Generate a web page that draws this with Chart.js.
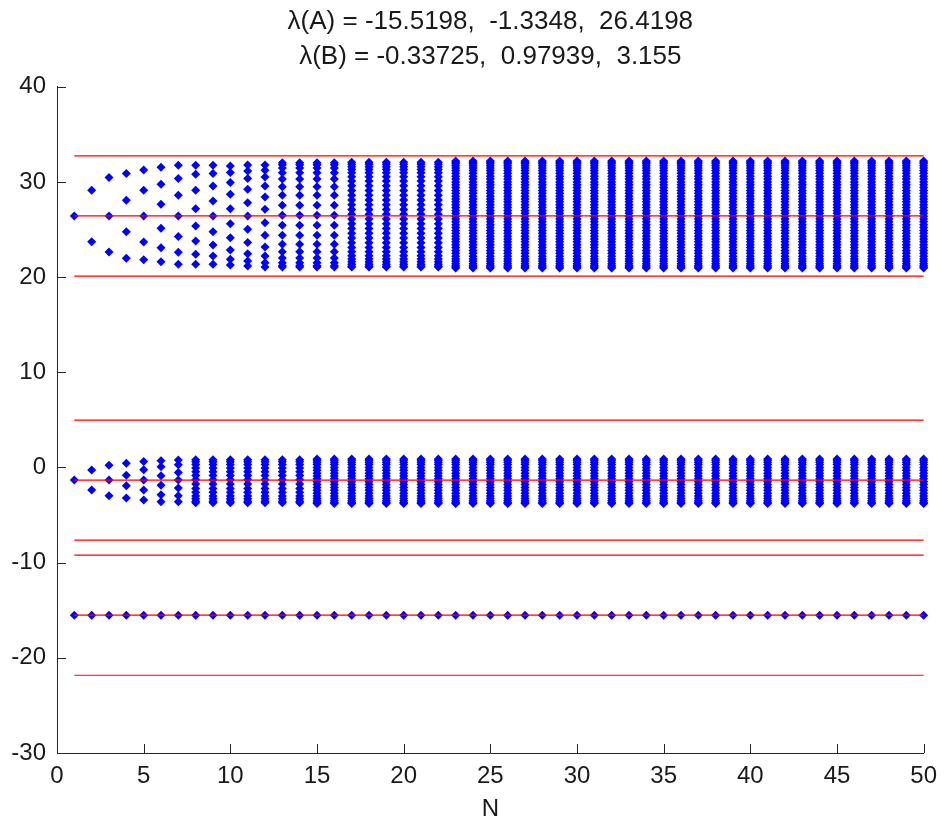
<!DOCTYPE html>
<html>
<head>
<meta charset="utf-8">
<script src="https://cdn.jsdelivr.net/npm/chart.js@4.4.1/dist/chart.umd.min.js"></script>
<style>
  html, body { margin: 0; padding: 0; background: #fff; }
  canvas { display: block; }
</style>
</head>
<body>
<canvas id="eigChart" width="946" height="824"></canvas>
<script>
// Title text
const titleLines = [
    'λ(A) = -15.5198,  -1.3348,  26.4198',
    'λ(B) = -0.33725,  0.97939,  3.155'
];

// Axis ticks
const xTicks = [0, 5, 10, 15, 20, 25, 30, 35, 40, 45, 50];
const yTicks = [-30, -20, -10, 0, 10, 20, 30, 40];

// Red reference levels, drawn from N = 1 to N = 50
const levelStart = 1;
const levelEnd = 50;
const levels = [32.7298, 26.4198, 20.1098, 4.9752, -1.3348, -7.6448, -9.2098, -15.5198, -21.8298];

// Upper cluster, one list per N (N = 1..12)
const upperCols = [
    [26.42],
    [29.12, 23.72],
    [30.45, 26.42, 22.63],
    [30.87, 28.07, 24.77, 21.97],
    [31.26, 29.12, 26.42, 23.69, 21.83],
    [31.54, 29.75, 27.65, 25.12, 23.09, 21.62],
    [31.75, 30.35, 28.59, 26.42, 24.25, 22.60, 21.34],
    [31.75, 30.80, 29.12, 27.19, 25.37, 23.79, 22.39, 21.34],
    [31.75, 30.87, 29.58, 28.00, 26.42, 24.77, 23.37, 22.21, 21.34],
    [31.68, 30.98, 29.93, 28.70, 27.19, 25.61, 24.14, 22.84, 21.86, 21.27],
    [31.78, 31.15, 30.35, 29.22, 27.82, 26.42, 25.02, 23.62, 22.46, 21.69, 21.16],
    [31.78, 31.22, 30.52, 29.58, 28.42, 27.12, 25.72, 24.39, 23.16, 22.21, 21.51, 21.06]
];
// Upper cluster, dense columns (markers run together)
const upperDenseA = [32.0, 31.8, 31.45, 30.95, 30.3, 29.5, 28.6, 27.55, 26.5, 25.45, 24.4, 23.45, 22.65, 22.0, 21.5, 21.2, 21.05];
const upperDenseB = [32.05, 31.85, 31.6, 31.3, 30.95, 30.55, 30.1, 29.6, 29.1, 28.6, 28.1, 27.6, 27.1, 26.6, 26.1, 25.6, 25.1, 24.6, 24.1, 23.6, 23.1, 22.65, 22.25, 21.9, 21.6, 21.35, 21.15, 21.05];
const upperDenseC = [32.2, 32.05, 31.9, 31.7, 31.45, 31.2, 30.9, 30.6, 30.3, 30.0, 29.7, 29.4, 29.1, 28.8, 28.5, 28.2, 27.9, 27.6, 27.3, 27.0, 26.7, 26.4, 26.1, 25.8, 25.5, 25.2, 24.9, 24.6, 24.3, 24.0, 23.7, 23.4, 23.1, 22.8, 22.5, 22.2, 21.9, 21.65, 21.4, 21.2, 21.05, 20.95];
const upperDenseRanges = [[13, 16, upperDenseA], [17, 22, upperDenseB], [23, 50, upperDenseC]];

// Middle cluster, one list per N (N = 1..7)
const middleCols = [
    [-1.33],
    [-0.28, -2.38],
    [0.24, -1.33, -2.98],
    [0.45, -0.81, -1.93, -3.22],
    [0.63, -0.25, -1.33, -2.38, -3.43],
    [0.70, 0.07, -0.88, -1.86, -2.87, -3.61],
    [0.77, 0.28, -0.53, -1.33, -2.17, -2.98, -3.61]
];
const middleDenseA = [0.82, 0.6, 0.3, -0.05, -0.45, -0.85, -1.3, -1.75, -2.2, -2.6, -3.0, -3.3, -3.55, -3.7];
const middleDenseB = [0.9, 0.75, 0.55, 0.3, 0.0, -0.3, -0.6, -0.9, -1.2, -1.5, -1.8, -2.1, -2.4, -2.7, -3.0, -3.25, -3.5, -3.68, -3.8];
const middleDenseRanges = [[8, 14, middleDenseA], [15, 50, middleDenseB]];

// Lower eigenvalue, same for every N
const lowerVals = [
    -15.52, -15.52, -15.52, -15.52, -15.52, -15.52, -15.52, -15.52, -15.52, -15.52,
    -15.52, -15.52, -15.52, -15.52, -15.52, -15.52, -15.52, -15.52, -15.52, -15.52,
    -15.52, -15.52, -15.52, -15.52, -15.52, -15.52, -15.52, -15.52, -15.52, -15.52,
    -15.52, -15.52, -15.52, -15.52, -15.52, -15.52, -15.52, -15.52, -15.52, -15.52,
    -15.52, -15.52, -15.52, -15.52, -15.52, -15.52, -15.52, -15.52, -15.52, -15.52
];

const fontFamily = '"Liberation Sans", Arial, sans-serif';
const textColor = '#1a1a1a';
const axisColor = '#262626';
const blue = 'rgb(0, 0, 255)';
const red = 'rgb(255, 0, 0)';

// Build the scatter points
function buildPoints() {
    const pts = [];
    upperCols.forEach((col, i) => col.forEach(v => pts.push({ x: i + 1, y: v })));
    upperDenseRanges.forEach(([from, to, col]) => {
        for (let n = from; n <= to; n++) col.forEach(v => pts.push({ x: n, y: v }));
    });
    middleCols.forEach((col, i) => col.forEach(v => pts.push({ x: i + 1, y: v })));
    middleDenseRanges.forEach(([from, to, col]) => {
        for (let n = from; n <= to; n++) col.forEach(v => pts.push({ x: n, y: v }));
    });
    lowerVals.forEach((v, i) => pts.push({ x: i + 1, y: v }));
    return pts;
}

const levelSets = levels.map(v => ({
    type: 'line',
    data: [{ x: levelStart, y: v }, { x: levelEnd, y: v }],
    borderColor: red,
    borderWidth: 1.2,
    pointRadius: 0,
    fill: false,
    order: 0,
    clip: false
}));

// Ticks pointing into the plot, MATLAB style
const inwardTicks = {
    id: 'inwardTicks',
    afterDraw(chart) {
        const { ctx, chartArea, scales } = chart;
        ctx.save();
        ctx.strokeStyle = axisColor;
        ctx.lineWidth = 1;
        ctx.beginPath();
        scales.x.ticks.forEach(t => {
            const px = Math.round(scales.x.getPixelForValue(t.value)) + 0.5;
            ctx.moveTo(px, chartArea.bottom);
            ctx.lineTo(px, chartArea.bottom - 9);
        });
        scales.y.ticks.forEach(t => {
            const py = Math.round(scales.y.getPixelForValue(t.value)) + 0.5;
            ctx.moveTo(chartArea.left, py);
            ctx.lineTo(chartArea.left + 9, py);
        });
        ctx.stroke();
        ctx.restore();
    }
};

const tickFont = { family: fontFamily, size: 24 };

new Chart(document.getElementById('eigChart').getContext('2d'), {
    type: 'scatter',
    data: {
        datasets: [
            ...levelSets,
            {
                label: 'eig',
                data: buildPoints(),
                pointStyle: 'rectRot',
                pointRadius: 4.5,
                backgroundColor: blue,
                borderColor: blue,
                borderWidth: 0,
                order: 1,
                clip: false
            }
        ]
    },
    options: {
        responsive: false,
        animation: false,
        layout: { padding: { left: 0, right: 22, top: 0, bottom: 0 } },
        plugins: {
            legend: { display: false },
            tooltip: { enabled: false },
            title: {
                display: true,
                fullSize: false,
                text: titleLines,
                color: textColor,
                font: { family: fontFamily, size: 26, weight: 'normal', lineHeight: 1.35 },
                padding: { top: 4, bottom: 12.5 }
            }
        },
        scales: {
            x: {
                type: 'linear',
                min: xTicks[0],
                max: xTicks[xTicks.length - 1],
                afterBuildTicks: s => { s.ticks = xTicks.map(v => ({ value: v })); },
                afterFit: s => { s.height = 71; },
                ticks: { font: tickFont, color: textColor, padding: 9, maxRotation: 0, autoSkip: false },
                grid: { display: true, drawOnChartArea: false, drawTicks: false },
                border: { display: true, color: axisColor, width: 1 },
                title: { display: true, text: 'N', color: textColor, font: tickFont, padding: { top: 4, bottom: 0 } }
            },
            y: {
                type: 'linear',
                min: yTicks[0],
                max: yTicks[yTicks.length - 1],
                afterBuildTicks: s => { s.ticks = yTicks.map(v => ({ value: v })); },
                afterFit: s => { s.width = 57; },
                ticks: { font: tickFont, color: textColor, padding: 11 },
                grid: { display: true, drawOnChartArea: false, drawTicks: false },
                border: { display: true, color: axisColor, width: 1 }
            }
        }
    },
    plugins: [inwardTicks]
});
</script>
</body>
</html>
